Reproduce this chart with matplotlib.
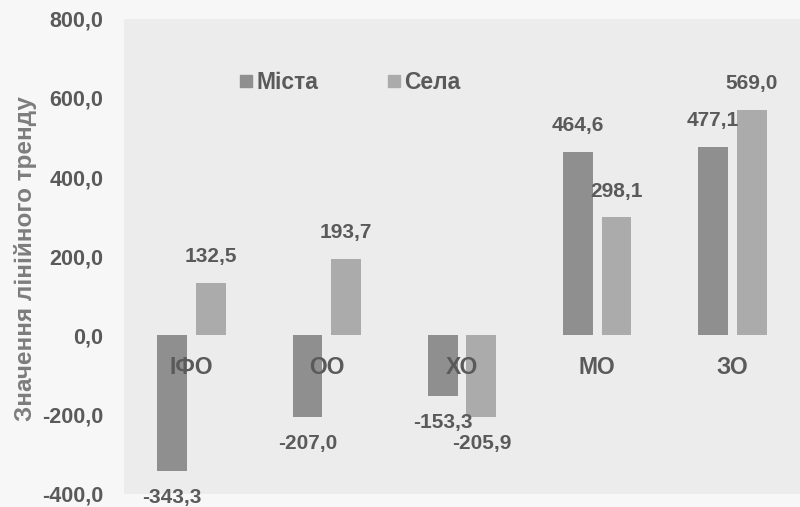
import numpy as np
import matplotlib.pyplot as plt
from matplotlib.lines import Line2D

# Значення лінійного тренду по областях
oblasti = ['ІФО', 'ОО', 'ХО', 'МО', 'ЗО']
mista = [-343.3, -207.0, -153.3, 464.6, 477.1]
sela = [132.5, 193.7, -205.9, 298.1, 569.0]
y_ticks = [-400, -200, 0, 200, 400, 600, 800]

KOLIR_MISTA = '#8f8f8f'
KOLIR_SELA = '#ababab'
KOLIR_TEKSTU = '#5a5a5a'

plt.rcParams['font.family'] = ['Liberation Sans', 'DejaVu Sans']
plt.rcParams['font.weight'] = 'bold'

fig = plt.figure(figsize=(8, 5.07), dpi=100, facecolor='#f7f7f7')
ax = fig.add_axes([0.155, 0.026, 0.845, 0.937])
ax.set_facecolor('#ececec')

x = np.arange(len(oblasti))
shyryna = 0.22
zsuv = 0.143

b1 = ax.bar(x - zsuv, mista, shyryna, color=KOLIR_MISTA)
b2 = ax.bar(x + zsuv, sela, shyryna, color=KOLIR_SELA)

# підписи значень над/під стовпчиками
for bars, vals in ((b1, mista), (b2, sela)):
    for rect, v in zip(bars, vals):
        cx = rect.get_x() + rect.get_width() / 2
        dy = 19 if v >= 0 else -19
        ax.annotate(f'{v:.1f}'.replace('.', ','), (cx, v), xytext=(0, dy),
                    textcoords='offset points', ha='center', va='center',
                    fontsize=15, fontweight='bold', color=KOLIR_TEKSTU)

# назви областей всередині області графіка
for xi, name in zip(x, oblasti):
    ax.text(xi, -80, name, ha='center', va='center', fontsize=16.5,
            fontweight='bold', color=KOLIR_TEKSTU)

ax.set_xlim(-0.5, 4.5)
ax.set_ylim(-400, 800)
ax.set_xticks([])
ax.set_yticks(y_ticks)
ax.set_yticklabels([f'{t:.1f}'.replace('.', ',') for t in y_ticks])
ax.tick_params(axis='y', length=0, pad=15, labelsize=15.5, labelcolor=KOLIR_TEKSTU)
for s in ax.spines.values():
    s.set_visible(False)

ax.set_ylabel('Значення лінійного тренду', fontsize=17.5, fontweight='bold',
              color='#7d7d7d')
ax.yaxis.set_label_coords(-0.128, 0.495)

# легенда з квадратними маркерами
handles = [Line2D([], [], marker='s', linestyle='none', color=KOLIR_MISTA, markersize=8),
           Line2D([], [], marker='s', linestyle='none', color=KOLIR_SELA, markersize=8)]
ax.legend(handles, ['Міста', 'Села'], loc='center left', bbox_to_anchor=(0.14, 0.866),
          ncol=2, frameon=False, fontsize=16.5, handlelength=0.6, handletextpad=0.15,
          columnspacing=3.0, labelcolor=KOLIR_TEKSTU)

fig.savefig('out.png', dpi=100, facecolor=fig.get_facecolor())
